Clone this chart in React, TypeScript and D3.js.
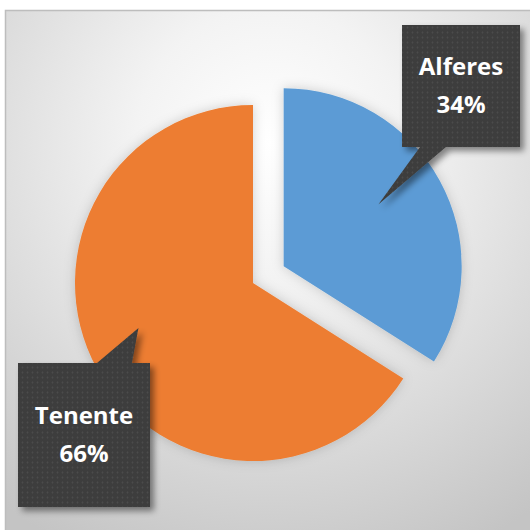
import React from "react";
import * as d3 from "d3";

const categories = ["Alferes", "Tenente"];
const values = [34, 66];
const percentLabels = ["34%", "66%"];
const colors = ["#5B9BD5", "#ED7D31"];

const W = 530;
const H = 530;
const cx = 253;
const cy = 283;
const R = 178;
const explode = [35, 0];

// callout boxes (layout)
const boxes = [
  { x: 402, y: 25, w: 118, h: 122, baseA: 420, baseB: 446, side: "bottom" },
  { x: 18, y: 363, w: 132, h: 144, baseA: 97, baseB: 132, side: "top" },
];
const tipRadius = [113, 123];
const tipShiftDeg = [-4.3, 7.4];

export default function App() {
  const pie = d3
    .pie<number>()
    .sort(null)
    .startAngle(0)
    .endAngle(2 * Math.PI)
    .value((d) => d);
  const arcs = pie(values);
  const arc = d3.arc<d3.PieArcDatum<number>>().innerRadius(0).outerRadius(R);

  return (
    <svg
      width={W}
      height={H}
      style={{ position: "absolute", left: 0, top: 0 }}
      fontFamily="'Open Sans', sans-serif"
    >
      <defs>
        <radialGradient id="bg" cx="50%" cy="25%" r="85%">
          <stop offset="0" stopColor="#ffffff" />
          <stop offset="0.3" stopColor="#f3f3f3" />
          <stop offset="1" stopColor="#c4c4c4" />
        </radialGradient>
        <pattern id="dots" width="5" height="5" patternUnits="userSpaceOnUse">
          <rect width="5" height="5" fill="#3d3d3d" />
          <circle cx="2.5" cy="2.5" r="1" fill="#4c4c4c" />
        </pattern>
        <filter id="shadow" x="-20%" y="-20%" width="150%" height="150%">
          <feDropShadow dx="4" dy="4" stdDeviation="3" floodColor="#000" floodOpacity="0.45" />
        </filter>
        <filter id="pieShadow" x="-20%" y="-20%" width="140%" height="140%">
          <feDropShadow dx="0" dy="0" stdDeviation="6" floodColor="#000" floodOpacity="0.18" />
        </filter>
      </defs>
      <rect x={5.5} y={10.5} width={W} height={H} fill="url(#bg)" stroke="#bdbdbd" strokeWidth={1.5} />
      <g filter="url(#pieShadow)">
        {arcs.map((a, i) => {
          const mid = (a.startAngle + a.endAngle) / 2;
          const dx = Math.sin(mid) * explode[i];
          const dy = -Math.cos(mid) * explode[i];
          return (
            <path
              key={categories[i]}
              d={arc(a) || ""}
              fill={colors[i]}
              transform={`translate(${cx + dx},${cy + dy})`}
            />
          );
        })}
      </g>
      {arcs.map((a, i) => {
        const mid = (a.startAngle + a.endAngle) / 2;
        const ox = cx + Math.sin(mid) * explode[i];
        const oy = cy - Math.cos(mid) * explode[i];
        const ang = mid + (tipShiftDeg[i] * Math.PI) / 180;
        const tx = ox + Math.sin(ang) * tipRadius[i];
        const ty = oy - Math.cos(ang) * tipRadius[i];
        const b = boxes[i];
        const by = b.side === "bottom" ? b.y + b.h : b.y;
        let d = "";
        if (b.side === "bottom") {
          d = `M${b.x},${b.y}H${b.x + b.w}V${b.y + b.h}H${b.baseB}L${tx},${ty}L${b.baseA},${by}H${b.x}Z`;
        } else {
          d = `M${b.x},${b.y}H${b.baseA}L${tx},${ty}L${b.baseB},${by}H${b.x + b.w}V${b.y + b.h}H${b.x}Z`;
        }
        const bcx = b.x + b.w / 2;
        const bcy = b.y + b.h / 2;
        return (
          <g key={"lbl" + i}>
            <path d={d} fill="url(#dots)" filter="url(#shadow)" />
            <text
              x={bcx}
              y={bcy - 11}
              textAnchor="middle"
              fill="#ffffff"
              fontSize={24}
              fontWeight={700}
            >
              {categories[i]}
            </text>
            <text
              x={bcx}
              y={bcy + 27}
              textAnchor="middle"
              fill="#ffffff"
              fontSize={24}
              fontWeight={700}
            >
              {percentLabels[i]}
            </text>
          </g>
        );
      })}
    </svg>
  );
}
